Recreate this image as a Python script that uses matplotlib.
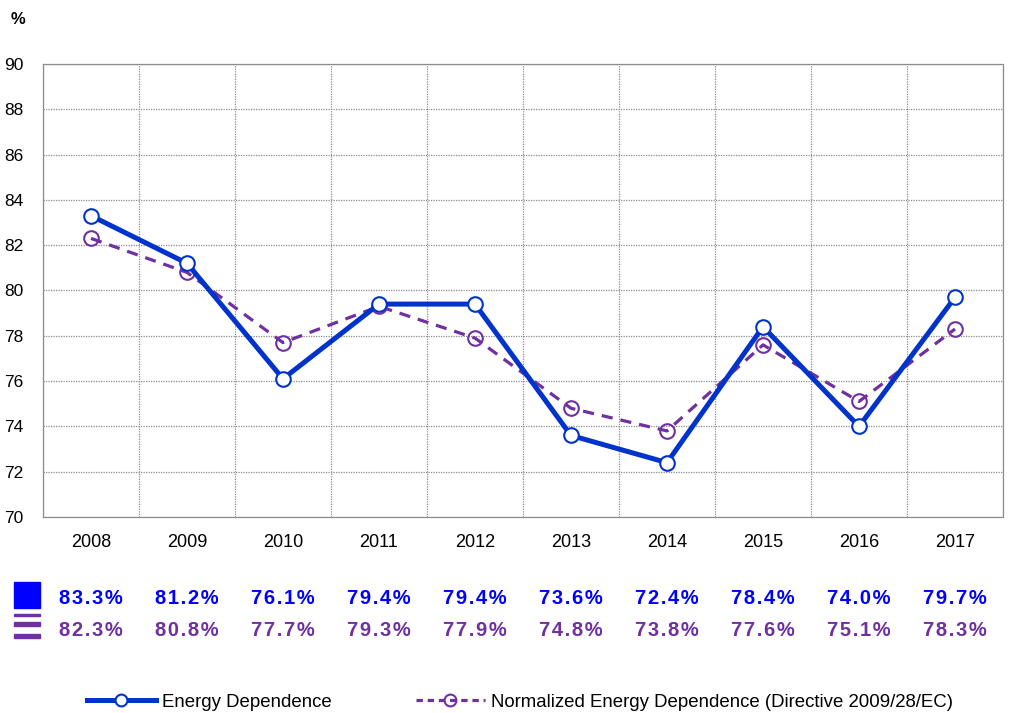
import matplotlib.pyplot as plt
import matplotlib.transforms as mtransforms
from matplotlib.patches import Rectangle
from matplotlib.lines import Line2D
import numpy as np

plt.rcParams['font.family'] = ['Liberation Sans', 'DejaVu Sans']

years = ['2008', '2009', '2010', '2011', '2012', '2013', '2014', '2015', '2016', '2017']
energy_dep = [83.3, 81.2, 76.1, 79.4, 79.4, 73.6, 72.4, 78.4, 74.0, 79.7]
norm_energy_dep = [82.3, 80.8, 77.7, 79.3, 77.9, 74.8, 73.8, 77.6, 75.1, 78.3]
series_names = ['Energy Dependence', 'Normalized Energy Dependence (Directive 2009/28/EC)']

blue = '#0033CC'
blue_txt = '#0000FF'
purple = '#7030A0'

fig = plt.figure(figsize=(10.09, 7.13), dpi=100)
ax = fig.add_axes([43 / 1009, 1 - 517 / 713, 960 / 1009, 453 / 713])

x = np.arange(len(years))

#main lines
ax.plot(x, energy_dep, color=blue, lw=3.6, marker='o', ms=10.5,
        mfc='white', mec=blue, mew=1.5, zorder=4)
ax.plot(x, norm_energy_dep, color=purple, lw=2.3, ls=(0, (3.5, 2.5)), marker='o', ms=10.5,
        mfc='none', mec=purple, mew=1.5, zorder=3)

ax.set_xlim(-0.5, len(years) - 0.5)
ax.set_ylim(70, 90)
ax.set_yticks(np.arange(70, 91, 2))
ax.set_xticks(x)
ax.set_xticklabels(years, fontsize=13)
ax.set_xticks(np.arange(-0.5, len(years), 1), minor=True)
ax.tick_params(axis='y', labelsize=12.5, length=0, pad=14)
ax.tick_params(axis='x', which='both', length=0, pad=12)

grid_style = dict(color='#8c8c8c', lw=0.9, ls=(0, (1.0, 1.0)))
ax.grid(axis='y', which='major', **grid_style)
ax.grid(axis='x', which='minor', **grid_style)
ax.grid(axis='x', which='major', visible=False)
for s in ax.spines.values():
    s.set_color('#8c8c8c')
    s.set_linewidth(0.9)
    s.set_linestyle((0, (1.0, 1.0)))

fig.text(18 / 1009, 1 - 19 / 713, '%', fontsize=12, fontweight='bold', ha='center', va='center')

#data table under the chart
trans = mtransforms.blended_transform_factory(ax.transData, fig.transFigure)
sp = '\u200a'
for i in range(len(years)):
    s1 = sp.join(f'{energy_dep[i]:.1f}%')
    s2 = sp.join(f'{norm_energy_dep[i]:.1f}%')
    fig.text(x[i], 1 - 598 / 713, s1, transform=trans, fontsize=14.5, fontweight='bold',
             color=blue_txt, ha='center', va='center')
    fig.text(x[i], 1 - 631 / 713, s2, transform=trans, fontsize=14.5, fontweight='bold',
             color=purple, ha='center', va='center')

fig.patches.append(Rectangle((14 / 1009, 1 - 608 / 713), 26 / 1009, 26 / 713,
                             transform=fig.transFigure, color=blue_txt))
for yy, hh in [(615, 1.5), (624, 4), (636, 4)]:
    fig.patches.append(Rectangle((14 / 1009, 1 - (yy + hh / 2) / 713), 26 / 1009, hh / 713,
                                 transform=fig.transFigure, color=purple))

#legend with smaller markers
handles = [
    Line2D([], [], color=blue, lw=3.6, marker='o', ms=8.5, mfc='white', mec=blue, mew=1.5),
    Line2D([], [], color=purple, lw=2.3, ls=(0, (2.0, 1.5)), marker='o', ms=8.5,
           mfc='none', mec=purple, mew=1.5),
]
fig.legend(handles, series_names, loc='center', bbox_to_anchor=(520 / 1009, 1 - 702 / 713),
           ncol=2, frameon=False, fontsize=13.4, handlelength=3.7, handletextpad=0.35,
           columnspacing=4.5, numpoints=1)

fig.savefig('out.png', dpi=100)
